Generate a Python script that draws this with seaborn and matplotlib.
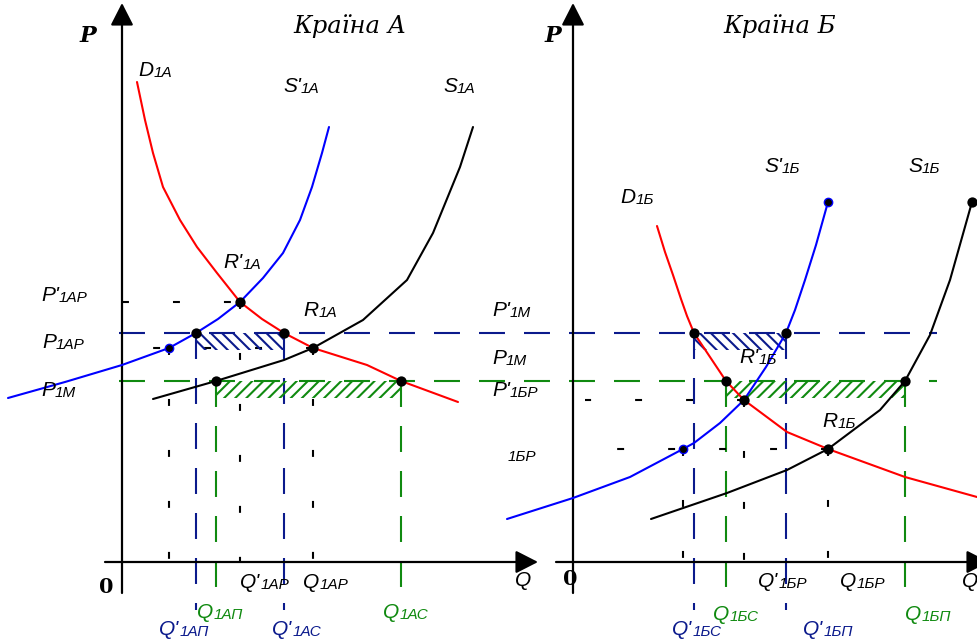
import matplotlib.pyplot as plt
import seaborn as sns

# Q and P are measured from the origin of each panel (1 unit = 1 px)

# Країна А
d_a_q = [15, 23, 31, 41, 58, 75, 95, 118, 140, 162, 191, 245, 279, 336]
d_a_p = [480, 442, 409, 375, 342, 315, 289, 260, 243, 229, 214, 197, 181, 160]
s2_a_q = [-114, -57, 0, 47, 74, 96, 118, 141, 161, 178, 190, 200, 207]
s2_a_p = [164, 180, 197, 214, 229, 243, 260, 284, 309, 342, 375, 409, 435]
s_a_q = [31, 94, 162, 191, 241, 285, 311, 338, 351]
s_a_p = [163, 181, 202, 214, 242, 282, 329, 395, 435]
pt_a_q = [118, 74, 162, 191, 94, 279]
pt_a_p = [260, 229, 229, 214, 181, 181]
small_a_q = [47]
small_a_p = [214]

# Країна Б
d_b_q = [84, 92, 100, 108, 114, 121, 137, 153, 171, 214, 255, 332, 404]
d_b_p = [336, 310, 287, 263, 246, 229, 205, 181, 162, 130, 113, 85, 65]
s2_b_q = [-66, 0, 57, 110, 121, 147, 171, 193, 213, 222, 232, 243, 255]
s2_b_p = [43, 64, 85, 113, 119, 139, 162, 195, 229, 252, 282, 317, 360]
s_b_q = [78, 154, 214, 255, 307, 332, 357, 377, 399]
s_b_p = [43, 69, 92, 113, 152, 181, 227, 282, 360]
pt_b_q = [121, 213, 153, 332, 171, 255, 399]
pt_b_p = [229, 229, 181, 181, 162, 113, 360]
small_b_q = [110, 255]
small_b_p = [113, 360]

price_high = 229   # P1AP / P'1M
price_low = 181    # P1M / P'1БP
band_depth = 17

NAVY = "#0b1a8c"
GREEN = "#108a10"

sns.set_theme(style="white")
plt.rcParams["lines.scale_dashes"] = False
plt.rcParams["hatch.linewidth"] = 1.5
plt.rcParams["text.color"] = "black"
plt.rcParams["font.family"] = ["Liberation Sans", "DejaVu Sans"]

fig = plt.figure(figsize=(9.78, 6.42), dpi=100)
ax_a = fig.add_axes([0, 0, 1, 1])
ax_b = fig.add_axes([0, 0, 1, 1])
ax_b.patch.set_alpha(0)
ax_a.set_xlim(-122, 856)
ax_b.set_xlim(-573, 405)
for ax in (ax_a, ax_b):
    ax.set_ylim(-80, 562)
    ax.axis("off")

long_dash = (0, (18.7, 13.7))
short_dash = (0, (5, 31.7))


def axes_arrows(ax):
    st = "-|>,head_length=1.37,head_width=0.7"
    for tip, start in [((0, 559), (0, -31)), ((416, 0), (-17, 0))]:
        ax.annotate("", xy=tip, xytext=start, annotation_clip=False,
                    arrowprops=dict(arrowstyle=st, mutation_scale=10, lw=1.6,
                                    color="black", shrinkA=0, shrinkB=0))


def label(ax, q, p, main, sub, color="black"):
    t = ax.text(q, p, main, fontsize=15, fontstyle="italic", color=color,
                ha="left", va="baseline", zorder=6)
    ax.annotate(sub, xy=(1, 0), xycoords=t, fontsize=11, fontstyle="italic",
                color=color, ha="left", va="bottom", zorder=6)


def vguide(ax, q, p_top, p_bot, color, ls):
    ax.plot([q, q], [p_top, p_bot], color=color, lw=1.5, ls=ls, zorder=1)


def band(ax, q0, q1, p, color, hatch):
    ax.fill_between([q0, q1], p - band_depth, p, facecolor="none",
                    edgecolor=color, hatch=hatch, lw=0, zorder=2)


def title(ax, q, p, s):
    ax.text(q, p, s, family="DejaVu Serif", fontstyle="italic", fontsize=17.5,
            color="black", ha="left", va="baseline")


# long horizontal price lines through both panels
ax_a.plot([-3, 815], [price_high, price_high], color=NAVY, lw=1.5, ls=long_dash, zorder=1)
ax_a.plot([-3, 815], [price_low, price_low], color=GREEN, lw=1.5, ls=long_dash, zorder=1)

# ---------------- Країна А ----------------
axes_arrows(ax_a)
for q in (pt_a_q[1], pt_a_q[2]):
    vguide(ax_a, q, price_high, -48, NAVY, long_dash)
for q in (pt_a_q[4], pt_a_q[5]):
    vguide(ax_a, q, price_low, -26, GREEN, long_dash)
for q, p in [(pt_a_q[0], pt_a_p[0]), (pt_a_q[3], pt_a_p[3]), (small_a_q[0], small_a_p[0])]:
    vguide(ax_a, q, p, 0, "black", short_dash)
ax_a.plot([0, pt_a_q[0]], [pt_a_p[0]] * 2, color="black", lw=1.5, ls=short_dash, zorder=1)
ax_a.plot([pt_a_q[3], 28], [pt_a_p[3]] * 2, color="black", lw=1.5, ls=short_dash, zorder=1)
band(ax_a, pt_a_q[1], pt_a_q[2], price_high, NAVY, "\\\\\\")
band(ax_a, pt_a_q[4], pt_a_q[5], price_low, GREEN, "///")

sns.lineplot(x=d_a_q, y=d_a_p, sort=False, estimator=None, color="#ff0000", lw=1.5, ax=ax_a, zorder=3)
sns.lineplot(x=s2_a_q, y=s2_a_p, sort=False, estimator=None, color="#0000ff", lw=1.5, ax=ax_a, zorder=3)
sns.lineplot(x=s_a_q, y=s_a_p, sort=False, estimator=None, color="black", lw=1.5, ax=ax_a, zorder=3)
sns.scatterplot(x=pt_a_q, y=pt_a_p, color="black", s=55, linewidth=0, ax=ax_a, zorder=5)
sns.scatterplot(x=small_a_q, y=small_a_p, color="black", edgecolor="#0000ff", s=36, linewidth=1, ax=ax_a, zorder=5)

title(ax_a, 171, 529, "Країна А")
ax_a.text(-42, 520, "P", family="DejaVu Serif", fontstyle="italic", fontweight="bold", fontsize=16, ha="left", va="baseline")
ax_a.text(-23, -31, "0", family="DejaVu Serif", fontweight="bold", fontsize=15, ha="left", va="baseline")
ax_a.text(393, -24, "Q", fontstyle="italic", fontsize=15, ha="left", va="baseline")
label(ax_a, -81, 261, "P'", "1АР")
label(ax_a, -80, 214, "P", "1АР")
label(ax_a, -81, 166, "P", "1М")
label(ax_a, 16, 486, "D", "1А")
label(ax_a, 161, 470, "S'", "1А")
label(ax_a, 321, 470, "S", "1А")
label(ax_a, 101, 294, "R'", "1А")
label(ax_a, 181, 246, "R", "1А")
label(ax_a, 118, -26, "Q'", "1АР")
label(ax_a, 181, -26, "Q", "1АР")
label(ax_a, 75, -56, "Q", "1АП", GREEN)
label(ax_a, 37, -73, "Q'", "1АП", NAVY)
label(ax_a, 150, -73, "Q'", "1АС", NAVY)
label(ax_a, 261, -56, "Q", "1АС", GREEN)

# ---------------- Країна Б ----------------
axes_arrows(ax_b)
for q in (pt_b_q[0], pt_b_q[1]):
    vguide(ax_b, q, price_high, -48, NAVY, long_dash)
for q in (pt_b_q[2], pt_b_q[3]):
    vguide(ax_b, q, price_low, -26, GREEN, long_dash)
for q, p in [(pt_b_q[4], pt_b_p[4]), (pt_b_q[5], pt_b_p[5]), (small_b_q[0], small_b_p[0])]:
    vguide(ax_b, q, p, 0, "black", short_dash)
ax_b.plot([pt_b_q[4], 12], [pt_b_p[4]] * 2, color="black", lw=1.5, ls=short_dash, zorder=1)
ax_b.plot([pt_b_q[5], 42], [pt_b_p[5]] * 2, color="black", lw=1.5, ls=short_dash, zorder=1)
band(ax_b, pt_b_q[0], pt_b_q[1], price_high, NAVY, "\\\\\\")
band(ax_b, pt_b_q[2], pt_b_q[3], price_low, GREEN, "///")

sns.lineplot(x=d_b_q, y=d_b_p, sort=False, estimator=None, color="#ff0000", lw=1.5, ax=ax_b, zorder=3)
sns.lineplot(x=s2_b_q, y=s2_b_p, sort=False, estimator=None, color="#0000ff", lw=1.5, ax=ax_b, zorder=3)
sns.lineplot(x=s_b_q, y=s_b_p, sort=False, estimator=None, color="black", lw=1.5, ax=ax_b, zorder=3)
sns.scatterplot(x=pt_b_q, y=pt_b_p, color="black", s=55, linewidth=0, ax=ax_b, zorder=5)
sns.scatterplot(x=small_b_q, y=small_b_p, color="black", edgecolor="#0000ff", s=36, linewidth=1, ax=ax_b, zorder=5)

title(ax_b, 150, 529, "Країна Б")
ax_b.text(-28, 520, "P", family="DejaVu Serif", fontstyle="italic", fontweight="bold", fontsize=16, ha="left", va="baseline")
ax_b.text(-10, -23, "0", family="DejaVu Serif", fontweight="bold", fontsize=15, ha="left", va="baseline")
ax_b.text(389, -25, "Q", fontstyle="italic", fontsize=15, ha="left", va="baseline")
label(ax_b, -81, 246, "P'", "1М")
label(ax_b, -81, 198, "P", "1М")
label(ax_b, -81, 166, "P'", "1БР")
ax_b.text(-65, 101, "1БР", fontstyle="italic", fontsize=11, ha="left", va="baseline")
label(ax_b, 47, 359, "D", "1Б")
label(ax_b, 191, 390, "S'", "1Б")
label(ax_b, 335, 390, "S", "1Б")
label(ax_b, 166, 199, "R'", "1Б")
label(ax_b, 249, 135, "R", "1Б")
label(ax_b, 185, -25, "Q'", "1БР")
label(ax_b, 267, -25, "Q", "1БР")
label(ax_b, 99, -73, "Q'", "1БС", NAVY)
label(ax_b, 140, -58, "Q", "1БС", GREEN)
label(ax_b, 230, -73, "Q'", "1БП", NAVY)
label(ax_b, 332, -58, "Q", "1БП", GREEN)

fig.savefig("out.png", dpi=100, facecolor="white")
plt.close(fig)
